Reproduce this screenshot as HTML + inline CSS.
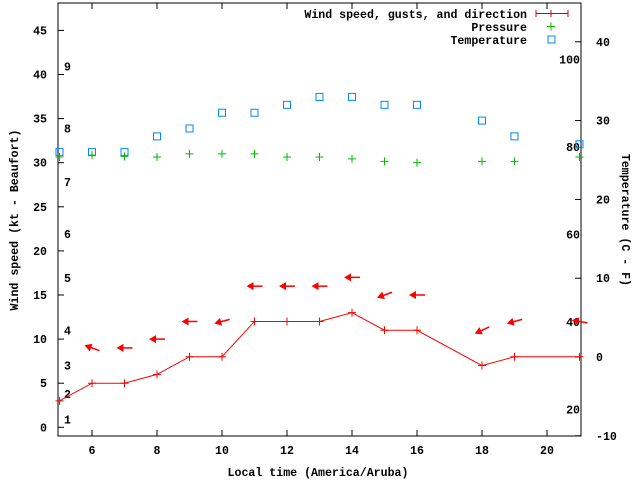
<!DOCTYPE html>
<html><head><meta charset="utf-8"><style>
body{margin:0;background:#fff}
svg text{font-family:"Liberation Mono",monospace;font-weight:bold;font-size:11.6px;fill:#000}
</style></head><body>
<svg id="chart" width="640" height="480" xmlns="http://www.w3.org/2000/svg"></svg>
<script>
const hours=[5,6,7,8,9,10,11,12,13,14,15,16,18,19,21];
const windSpeed=[3,5,5,6,8,8,12,12,12,13,11,11,7,8,8];
const gustHours=[6,7,8,9,10,11,12,13,14,15,16,18,19,21];
const gusts=[9,9,10,12,12,16,16,16,17,15,15,11,12,12];
const windDir=[110,90,90,90,75,90,90,90,90,70,90,65,75,100];
const pressure=[1012.55,1012.7,1012.6,1012.55,1012.8,1012.8,1012.8,1012.55,1012.55,1012.4,1012.2,1012.1,1012.2,1012.2,1012.55];
const temperature=[26,26,26,28,29,31,31,32,33,33,32,32,30,28,27];
const xTicks=[6,8,10,12,14,16,18,20];
const yTicks=[0,5,10,15,20,25,30,35,40,45];
const tTicks=[-10,0,10,20,30,40];
const fTicks=[20,40,60,80,100];
const beaufort=[1,2,3,4,5,6,7,8,9];
const beaufortKt=[0.9,3.8,7.0,11.0,16.9,21.9,27.8,33.9,40.9];

const L=58,R=581,T=3,B=436;
const X=h=>59.5+(h-5)*32.5;
const Y=v=>427.3-v*8.82;
const TY=c=>357-c*7.88;
const FY=f=>TY((f-32)*5/9);
const PY=p=>436-(p-990)*433/35;
const svg=document.getElementById('chart');
const NS='http://www.w3.org/2000/svg';
function mk(tag,attrs,name,txt){const e=document.createElementNS(NS,tag);for(const k in attrs)e.setAttribute(k,attrs[k]);


if(txt!==undefined)e.textContent=txt;svg.appendChild(e);return e;}

mk('rect',{x:L,y:T,width:R-L,height:B-T,fill:'none',stroke:'#000','stroke-width':1},'plot-frame');
xTicks.forEach(h=>{const x=X(h);
mk('line',{x1:x,x2:x,y1:B,y2:B-6,stroke:'#000'},'x-tick');
mk('line',{x1:x,x2:x,y1:T,y2:T+6,stroke:'#000'},'x-tick-top');
mk('text',{x:x,y:454,'text-anchor':'middle'},'x-tick-label',h);});
yTicks.forEach(v=>{const y=Y(v);
mk('line',{x1:L,x2:L+6,y1:y,y2:y,stroke:'#000'},'y-tick');
mk('text',{x:47,y:y+4,'text-anchor':'end'},'y-tick-label',v);});
tTicks.forEach(c=>{const y=TY(c);
mk('line',{x1:R,x2:R-6,y1:y,y2:y,stroke:'#000'},'temp-c-tick');
mk('text',{x:596,y:y+4},'temp-c-label',c);});
fTicks.forEach(f=>mk('text',{x:580,y:FY(f)+4,'text-anchor':'end'},'temp-f-label',f));
beaufort.forEach((b,i)=>mk('text',{x:64,y:Y(beaufortKt[i])+4},'beaufort-label',b));

mk('text',{x:318,y:476,'text-anchor':'middle'},'x-axis-title','Local time (America/Aruba)');
mk('text',{x:18,y:220,'text-anchor':'middle',transform:'rotate(-90 18 220)'},'y-axis-title','Wind speed (kt - Beaufort)');
mk('text',{x:622,y:220,'text-anchor':'middle',transform:'rotate(90 622 220)'},'y2-axis-title','Temperature (C - F)');

mk('polyline',{points:hours.map((h,i)=>X(h)+','+Y(windSpeed[i])).join(' '),fill:'none',stroke:'#f00','stroke-width':1},'wind-speed-line');
hours.forEach((h,i)=>{const x=X(h),y=Y(windSpeed[i]);
mk('path',{d:`M${x-4} ${y}H${x+4}M${x} ${y-4}V${y+4}`,stroke:'#f00'},'wind-speed-point');});
gustHours.forEach((h,i)=>{const cx=X(h),cy=Y(gusts[i]);const a=(windDir[i]-90)*Math.PI/180;
const dx=Math.cos(a),dy=Math.sin(a);
const head={x:cx-6*dx,y:cy-6*dy},tail={x:cx+8*dx,y:cy+8*dy};
mk('line',{x1:head.x,y1:head.y,x2:tail.x,y2:tail.y,stroke:'#f00','stroke-width':1.5},'gust-arrow-shaft');
const px=-dy,py=dx;
mk('polygon',{points:`${head.x-2*dx},${head.y-2*dy} ${head.x+5*dx+4*px},${head.y+5*dy+4*py} ${head.x+5*dx-4*px},${head.y+5*dy-4*py}`,fill:'#f00'},'gust-arrow-head');});
hours.forEach((h,i)=>{const x=X(h),y=PY(pressure[i]);
mk('path',{d:`M${x-4} ${y}H${x+4}M${x} ${y-4}V${y+4}`,stroke:'#0b0'},'pressure-point');});
hours.forEach((h,i)=>{const x=X(h),y=TY(temperature[i]);
mk('rect',{x:x-3.5,y:y-3.5,width:7,height:7,fill:'none',stroke:'#08f','stroke-width':1},'temperature-point');});

mk('text',{x:527,y:18,'text-anchor':'end'},'legend-wind-label','Wind speed, gusts, and direction');
mk('path',{d:'M536 13.5H568M536 10V17M568 10V17M551 10V17',stroke:'#d00'},'legend-wind-symbol');
mk('text',{x:527,y:31,'text-anchor':'end'},'legend-pressure-label','Pressure');
mk('path',{d:'M547 26.5H555M551 22.5V30.5',stroke:'#0b0'},'legend-pressure-symbol');
mk('text',{x:527,y:44,'text-anchor':'end'},'legend-temperature-label','Temperature');
mk('rect',{x:548,y:36,width:7,height:7,fill:'none',stroke:'#08f'},'legend-temperature-symbol');
</script>
</body></html>
